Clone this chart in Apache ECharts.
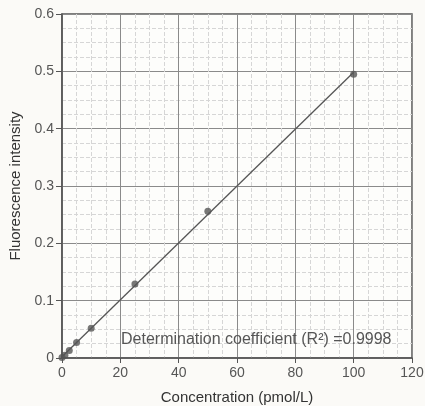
<!DOCTYPE html>
<html>
<head>
<meta charset="utf-8">
<script src="https://cdn.jsdelivr.net/npm/echarts@6/dist/echarts.min.js"></script>
<style>
html,body{margin:0;padding:0;background:#fbfaf7;}
#c{width:425px;height:406px;}
</style>
</head>
<body>
<div id="c"></div>
<script>
var concentration = [0, 1, 2.5, 5, 10, 25, 50, 100];
var intensity = [0.001, 0.005, 0.013, 0.027, 0.052, 0.129, 0.256, 0.495];
var xTicks = [0, 20, 40, 60, 80, 100, 120];
var yTicks = [0, 0.1, 0.2, 0.3, 0.4, 0.5, 0.6];
var annotation = 'Determination coefficient (R\u00b2) =0.9998';

// least-squares fit line from the data
var n = concentration.length, sx = 0, sy = 0, sxx = 0, sxy = 0;
for (var i = 0; i < n; i++) {
  sx += concentration[i]; sy += intensity[i];
  sxx += concentration[i] * concentration[i]; sxy += concentration[i] * intensity[i];
}
var slope = (n * sxy - sx * sy) / (n * sxx - sx * sx);
var icpt = (sy - slope * sx) / n;
var xFirst = concentration[0], xLast = concentration[n - 1];
var fitLine = [[xFirst, icpt + slope * xFirst], [xLast, icpt + slope * xLast]];

var font = '"Liberation Sans", Arial, Helvetica, sans-serif';
var chart = echarts.init(document.getElementById('c'));
chart.setOption({
  backgroundColor: '#fbfaf7',
  animation: false,
  grid: {left: 62, right: 13, top: 14, bottom: 48, containLabel: false, outerBoundsMode: 'none',
         show: true, borderColor: '#555', borderWidth: 1.5, backgroundColor: '#fdfdfb'},
  xAxis: {
    type: 'value', min: xTicks[0], max: xTicks[xTicks.length - 1], interval: 20,
    name: 'Concentration (pmol/L)', nameLocation: 'middle', nameGap: 32,
    nameTextStyle: {fontFamily: font, fontSize: 15, color: '#333'},
    axisLine: {show: true, lineStyle: {color: '#555', width: 1.5}},
    axisTick: {show: true, length: 5, lineStyle: {color: '#555'}},
    axisLabel: {fontFamily: font, fontSize: 14, color: '#555', margin: 8},
    splitLine: {show: true, lineStyle: {color: '#8a8a8a', width: 1}},
    minorTick: {show: false, splitNumber: 4},
    minorSplitLine: {show: true, lineStyle: {color: '#d6d6d6', width: 1, type: 'dashed'}}
  },
  yAxis: {
    type: 'value', min: yTicks[0], max: yTicks[yTicks.length - 1], interval: 0.1,
    name: 'Fluorescence intensity', nameLocation: 'middle', nameGap: 38,
    nameTextStyle: {fontFamily: font, fontSize: 15, color: '#333'},
    axisLine: {show: true, lineStyle: {color: '#555', width: 1.5}},
    axisTick: {show: true, length: 6, lineStyle: {color: '#555'}},
    axisLabel: {fontFamily: font, fontSize: 14, color: '#555', margin: 8},
    splitLine: {show: true, lineStyle: {color: '#8a8a8a', width: 1}},
    minorTick: {show: false, splitNumber: 4},
    minorSplitLine: {show: true, lineStyle: {color: '#d6d6d6', width: 1, type: 'dashed'}}
  },
  graphic: [{
    type: 'text', left: 121, top: 332, z: 10,
    style: {text: annotation, font: '16px ' + font, fill: '#555'}
  }],
  series: [
    {type: 'line', data: fitLine, symbol: 'none', lineStyle: {color: '#555', width: 1.3}, z: 3},
    {type: 'scatter', data: concentration.map(function (c, i) { return [c, intensity[i]]; }),
     symbolSize: 7, itemStyle: {color: '#555'}, z: 4}
  ]
});
</script>
</body>
</html>
